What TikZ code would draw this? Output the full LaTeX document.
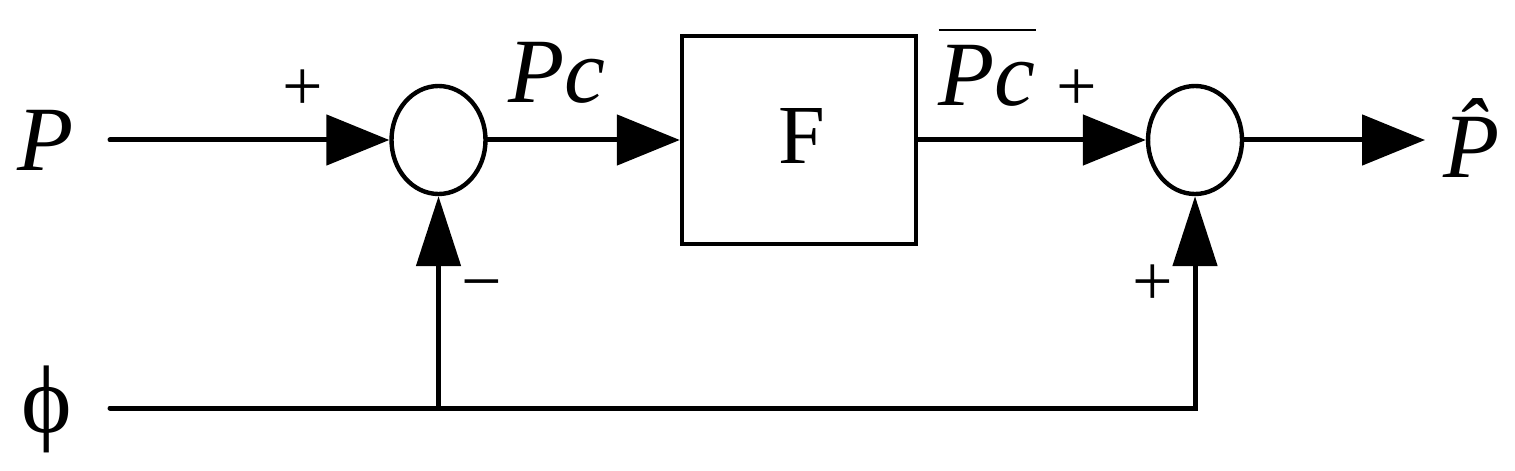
\documentclass[tikz,border=0pt]{standalone}
\usepackage{fontspec}
\setmainfont{Liberation Serif}
\usetikzlibrary{arrows.meta,shapes.geometric}
\begin{document}
\begin{tikzpicture}[x=0.25pt,y=-0.25pt,
  wire/.style={line width=1.25pt, line cap=round},
  harrow/.style={wire,-{Triangle[length=15.75pt,width=12.5pt]}},
  varrow/.style={wire,-{Triangle[length=17.5pt,width=11pt]}},
  sumnode/.style={ellipse, draw, line width=1.1pt, minimum width=23.5pt, minimum height=27pt, inner sep=0pt},
  blocknode/.style={rectangle, draw, line width=1.1pt, minimum width=58.5pt, minimum height=52pt, inner sep=0pt},
  biglabel/.style={font=\fontsize{23}{28}\selectfont\itshape, inner sep=0pt, anchor=base},
  rmlabel/.style={font=\fontsize{21}{26}\selectfont, inner sep=0pt, anchor=base},
  sign/.style={font=\fontsize{18}{22}\selectfont, inner sep=0pt, anchor=base},
]
\useasboundingbox (0,0) rectangle (1515,470);
% nodes
\node[biglabel] (P) at (46,170) {P};
\node[font=\fontsize{24}{28}\selectfont, inner sep=0pt, anchor=base] (phi) at (47,432) {ϕ};
\node[sumnode] (s1) at (438.5,140) {};
\node[blocknode] (F) at (799,140) {};
\node[rmlabel] (Flabel) at (802,164) {F};
\node[sumnode] (s2) at (1195,140) {};
\node[biglabel] (Pc) at (557,103) {Pc};
\node[biglabel] (Pcb) at (987,106) {$\overline{\mbox{\itshape Pc}\rule{0pt}{17.6pt}}$};
\node[biglabel] (Phat) at (1472,178) {\^{P}};
\node[sign] (pl1) at (303,110) {+};
\node[sign] (pl2) at (1077,110) {+};
\node[sign] (pl3) at (1153,305) {+};
\node[sign] (mi1) at (482,305) {−};
% connectors
\coordinate (pin) at (110,140);
\coordinate (pout) at (1425,140);
\coordinate (phin) at (110,408);
\coordinate (j1) at (438.5,408);
\coordinate (j2) at (1195,408);
\draw[harrow] (pin) -- (s1.west);
\draw[harrow] (s1.east) -- (F.west);
\draw[harrow] (F.east) -- (s2.west);
\draw[harrow] (s2.east) -- (pout);
\draw[varrow] (phin) -- (j2) -- (s2.south);
\draw[varrow] (j1) -- (s1.south);
\end{tikzpicture}
\end{document}
